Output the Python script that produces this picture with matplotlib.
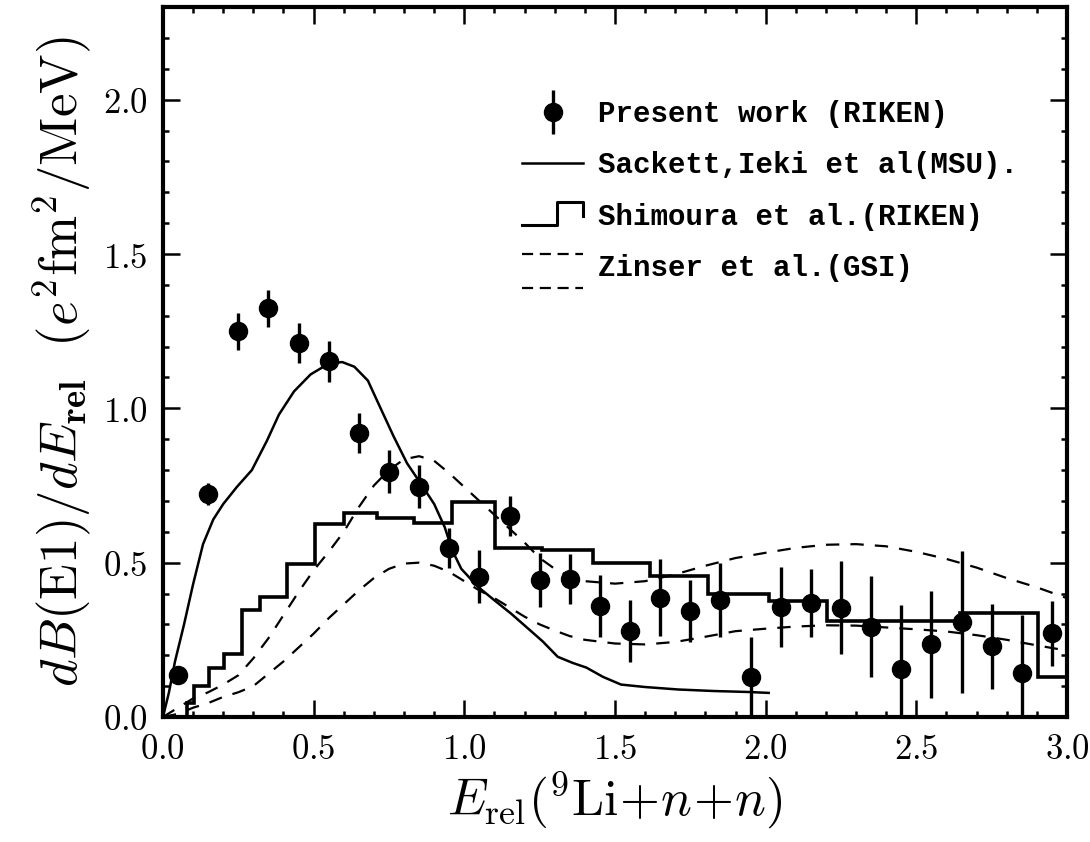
import matplotlib
matplotlib.use('Agg')
import matplotlib.pyplot as plt
from matplotlib.lines import Line2D
from matplotlib.ticker import FuncFormatter
from matplotlib.legend_handler import HandlerBase, HandlerErrorbar

# --- data ---
# Present work (RIKEN): dB(E1)/dE_rel points with errors
e_pts = [0.05, 0.15, 0.25, 0.35, 0.45, 0.55, 0.65, 0.75, 0.85, 0.95,
         1.05, 1.15, 1.25, 1.35, 1.45, 1.55, 1.65, 1.75, 1.85, 1.95,
         2.05, 2.15, 2.25, 2.35, 2.45, 2.55, 2.65, 2.75, 2.85, 2.95]
db_pts = [0.136, 0.722, 1.25, 1.325, 1.212, 1.152, 0.92, 0.795, 0.746, 0.547,
          0.455, 0.652, 0.443, 0.447, 0.36, 0.278, 0.386, 0.343, 0.378, 0.13,
          0.356, 0.368, 0.354, 0.293, 0.154, 0.235, 0.309, 0.229, 0.143, 0.271]
db_err = [0.025, 0.035, 0.06, 0.06, 0.065, 0.065, 0.065, 0.07, 0.07, 0.065,
          0.085, 0.065, 0.088, 0.082, 0.10, 0.10, 0.125, 0.10, 0.12, 0.13,
          0.13, 0.11, 0.15, 0.163, 0.21, 0.173, 0.23, 0.138, 0.187, 0.105]

# Sackett, Ieki et al (MSU): solid curve
msu_e = [0.0, 0.02, 0.04, 0.07, 0.1, 0.133, 0.167, 0.2, 0.245, 0.295,
         0.345, 0.385, 0.435, 0.49, 0.55, 0.595, 0.635, 0.68, 0.72, 0.765,
         0.81, 0.855, 0.9, 0.935, 0.96, 0.99, 1.045, 1.1, 1.155, 1.21,
         1.26, 1.31, 1.36, 1.405, 1.46, 1.52, 1.6, 1.71, 1.83, 1.94, 2.01]
msu_db = [0.0, 0.08, 0.18, 0.3, 0.43, 0.56, 0.64, 0.69, 0.745, 0.80,
          0.895, 0.98, 1.055, 1.11, 1.145, 1.15, 1.135, 1.09, 1.005, 0.91,
          0.822, 0.757, 0.69, 0.615, 0.54, 0.48, 0.422, 0.378, 0.335, 0.288,
          0.245, 0.195, 0.175, 0.16, 0.13, 0.105, 0.097, 0.089, 0.084, 0.081, 0.078]

# Shimoura et al. (RIKEN): histogram
shim_edges = [0.0, 0.08, 0.104, 0.153, 0.202, 0.262, 0.322, 0.411, 0.506, 0.6,
              0.711, 0.833, 0.958, 1.102, 1.257, 1.428, 1.616, 1.81, 2.01, 2.203,
              2.645, 2.905, 3.0]
shim_db = [0.0, 0.045, 0.10, 0.16, 0.205, 0.346, 0.389, 0.497, 0.625, 0.662,
           0.646, 0.627, 0.697, 0.546, 0.540, 0.50, 0.456, 0.40, 0.375, 0.311,
           0.336, 0.128]

# Zinser et al. (GSI): upper and lower dashed curves
gsi_e = [0.0, 0.05, 0.1, 0.15, 0.2, 0.25, 0.3, 0.35, 0.4, 0.45,
         0.5, 0.55, 0.6, 0.65, 0.7, 0.75, 0.8, 0.85, 0.9, 0.95,
         1.0, 1.05, 1.1, 1.15, 1.2, 1.25, 1.3, 1.35, 1.4, 1.5,
         1.6, 1.7, 1.8, 1.9, 2.0, 2.1, 2.2, 2.3, 2.4, 2.5,
         2.6, 2.7, 2.8, 2.9, 3.0]
gsi_hi = [0.0, 0.03, 0.06, 0.08, 0.105, 0.135, 0.19, 0.255, 0.33, 0.405,
          0.475, 0.535, 0.60, 0.68, 0.75, 0.80, 0.835, 0.845, 0.83, 0.79,
          0.745, 0.70, 0.655, 0.61, 0.565, 0.515, 0.48, 0.455, 0.44, 0.432,
          0.44, 0.462, 0.49, 0.515, 0.532, 0.548, 0.558, 0.56, 0.553, 0.535,
          0.512, 0.484, 0.45, 0.42, 0.385]
gsi_lo = [0.0, 0.01, 0.03, 0.045, 0.065, 0.08, 0.10, 0.14, 0.18, 0.225,
          0.27, 0.32, 0.365, 0.41, 0.45, 0.48, 0.497, 0.50, 0.49, 0.47,
          0.44, 0.41, 0.385, 0.355, 0.325, 0.30, 0.28, 0.262, 0.25, 0.238,
          0.235, 0.243, 0.26, 0.278, 0.286, 0.293, 0.297, 0.296, 0.29, 0.284,
          0.277, 0.265, 0.25, 0.232, 0.215]

labels = ["Present work (RIKEN)", "Sackett,Ieki et al(MSU).",
          "Shimoura et al.(RIKEN)", "Zinser et al.(GSI)"]

DASH = (0, (6, 5))


class StepHandler(HandlerBase):
    # little step drawing for the histogram entry
    def create_artists(self, legend, orig_handle, xdescent, ydescent,
                       width, height, fontsize, trans):
        x0, y0 = -xdescent, -ydescent
        xs = [x0, x0 + 0.58 * width, x0 + 0.58 * width, x0 + width, x0 + width]
        ys = [y0, y0, y0 + 1.1 * height, y0 + 1.1 * height, y0 + 0.45 * height]
        ln = Line2D(xs, ys, color='black', lw=2.2)
        ln.set_transform(trans)
        return [ln]


class PairHandler(HandlerBase):
    # two dashed lines for the band entry
    def create_artists(self, legend, orig_handle, xdescent, ydescent,
                       width, height, fontsize, trans):
        x0, y0 = -xdescent, -ydescent
        out = []
        for f in (1.1, -0.6):
            ln = Line2D([x0, x0 + width], [y0 + f * height] * 2,
                        color='black', lw=1.6, linestyle=(0, (5, 3)))
            ln.set_transform(trans)
            out.append(ln)
        return out


plt.rcParams['mathtext.fontset'] = 'cm'

fig = plt.figure(figsize=(10.9, 8.42), dpi=100)
ax = fig.add_axes([0.1495, 0.1485, 0.8294, 0.843])

ax.stairs(shim_db, shim_edges, baseline=None, color='black', lw=2.6, zorder=2)
ax.plot(gsi_e, gsi_hi, color='black', lw=1.6, linestyle=DASH, zorder=2)
ax.plot(gsi_e, gsi_lo, color='black', lw=1.6, linestyle=DASH, zorder=2)
ax.plot(msu_e, msu_db, color='black', lw=1.8, zorder=3)
pts = ax.errorbar(e_pts, db_pts, yerr=db_err, fmt='o', color='black',
                  ms=13, elinewidth=2.4, capsize=0, zorder=4)

ax.set_xlim(0, 3.0)
ax.set_ylim(0, 2.3)
ax.set_xticks([0.0, 0.5, 1.0, 1.5, 2.0, 2.5, 3.0])
ax.set_yticks([0.0, 0.5, 1.0, 1.5, 2.0])
ax.set_xticks([i / 10 for i in range(31)], minor=True)
ax.set_yticks([i / 10 for i in range(24)], minor=True)
cm_fmt = FuncFormatter(lambda v, p: r"$\mathbf{%.1f}$" % v)
ax.xaxis.set_major_formatter(cm_fmt)
ax.yaxis.set_major_formatter(cm_fmt)
ax.tick_params(which='both', direction='in', top=True, right=True, width=1.8)
ax.tick_params(which='major', length=12, pad=11, labelsize=25)
ax.tick_params(which='minor', length=4.5)
for sp in ax.spines.values():
    sp.set_linewidth(3)

ax.set_xlabel(r"$E_{\mathrm{rel}}(^{9}\mathrm{Li}\!+\!n\!+\!n)$", fontsize=37, labelpad=2)
ax.set_ylabel(r"$dB(\mathrm{E1})/dE_{\mathbf{rel}}\ \ (e^{2}\mathrm{fm}^{2}/\mathrm{MeV})$",
              fontsize=38, labelpad=7)

dummy_msu = Line2D([], [], color='black', lw=1.8)
dummy_shim = Line2D([], [], color='black')
dummy_gsi = Line2D([], [], color='black')
ax.legend([pts, dummy_msu, dummy_shim, dummy_gsi], labels,
          handler_map={type(pts): HandlerErrorbar(yerr_size=0.74),
                       dummy_shim: StepHandler(), dummy_gsi: PairHandler()},
          loc='upper left', bbox_to_anchor=(0.368, 0.906), frameon=False,
          numpoints=1, handlelength=2.1, handletextpad=0.5, labelspacing=0.8,
          prop={'family': 'Liberation Mono', 'weight': 'bold', 'size': 21})

fig.savefig('out.png', dpi=100)
